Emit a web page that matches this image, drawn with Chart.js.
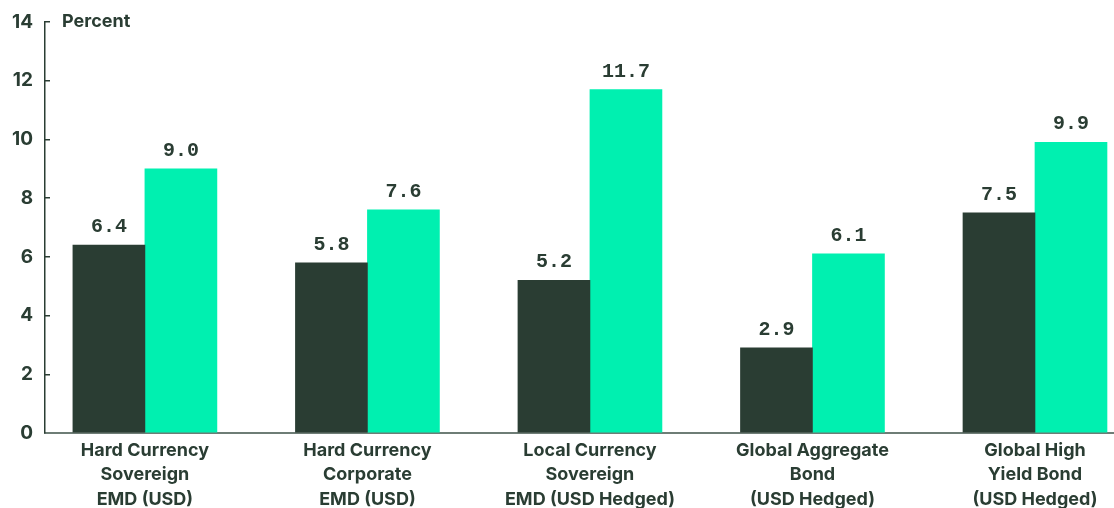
<!DOCTYPE html>
<html>
<head>
<meta charset="utf-8">
<script src="https://cdn.jsdelivr.net/npm/chart.js@4.4.1/dist/chart.umd.min.js"></script>
<style>
  html, body { margin: 0; padding: 0; background: #ffffff; }
  #wrap { width: 1114px; height: 508px; position: relative; }
</style>
</head>
<body>
<div id="wrap"><canvas id="grafico"></canvas></div>
<script>
// Dados do gráfico
const categorias = [
  ['Hard Currency', 'Sovereign', 'EMD (USD)'],
  ['Hard Currency', 'Corporate', 'EMD (USD)'],
  ['Local Currency', 'Sovereign', 'EMD (USD Hedged)'],
  ['Global Aggregate', 'Bond', '(USD Hedged)'],
  ['Global High', 'Yield Bond', '(USD Hedged)']
];
const serieEscura = [6.4, 5.8, 5.2, 2.9, 7.5];
const serieVerde = [9.0, 7.6, 11.7, 6.1, 9.9];
const ticksY = [0, 2, 4, 6, 8, 10, 12, 14];

const corTexto = '#2a3d33';

// rótulos de valor acima das barras
const rotulosValor = {
  id: 'rotulosValor',
  afterDatasetsDraw(chart) {
    const ctx = chart.ctx;
    ctx.save();
    ctx.font = 'bold 20px "Liberation Mono", monospace';
    ctx.fillStyle = corTexto;
    ctx.textAlign = 'center';
    ctx.textBaseline = 'bottom';
    chart.data.datasets.forEach((ds, i) => {
      chart.getDatasetMeta(i).data.forEach((bar, j) => {
        ctx.fillText(ds.data[j].y.toFixed(1), bar.x, bar.y - 8);
      });
    });
    ctx.restore();
  }
};

// "Percent" no topo do eixo
const tituloEixo = {
  id: 'tituloEixo',
  afterDraw(chart) {
    const ctx = chart.ctx;
    ctx.save();
    ctx.font = 'bold 18px Inter, sans-serif';
    ctx.fillStyle = corTexto;
    ctx.textBaseline = 'middle';
    ctx.fillText('Percent', chart.chartArea.left + 17, chart.chartArea.top);
    ctx.restore();
  }
};

new Chart(document.getElementById('grafico'), {
  type: 'bar',
  data: {
    datasets: [
      {
        data: serieEscura.map((v, i) => ({ x: i, y: v })),
        backgroundColor: '#2a3d33',
        barThickness: 72
      },
      {
        data: serieVerde.map((v, i) => ({ x: i, y: v })),
        backgroundColor: '#00f0b0',
        barThickness: 72
      }
    ]
  },
  options: {
    responsive: true,
    maintainAspectRatio: false,
    animation: false,
    layout: { padding: { top: 22, right: 1, left: 0, bottom: 0 } },
    plugins: {
      legend: { display: false },
      tooltip: { enabled: false }
    },
    scales: {
      x: {
        type: 'linear',
        offset: false,
        min: -0.449,
        max: 4.3506,
        afterFit(scale) {
          scale.height = 75;
          scale.paddingLeft = 0;
          scale.paddingRight = 0;
        },
        afterBuildTicks(scale) {
          scale.ticks = categorias.map((c, i) => ({ value: i }));
        },
        ticks: {
          callback: (v) => categorias[v] || '',
          color: corTexto,
          font: { family: 'Inter', weight: 'bold', size: 18, lineHeight: 1.37 },
          padding: 5,
          maxRotation: 0,
          autoSkip: false
        },
        grid: { display: false, drawTicks: false },
        border: { color: '#6e7d76', width: 2 }
      },
      y: {
        min: 0,
        max: 14,
        afterFit(scale) {
          scale.width = 45;
          scale.paddingTop = 0;
          scale.paddingBottom = 0;
        },
        afterBuildTicks(scale) {
          scale.ticks = ticksY.map(v => ({ value: v }));
        },
        ticks: {
          color: corTexto,
          font: { family: 'Inter', weight: 'bold', size: 19, lineHeight: 1 },
          padding: 17
        },
        grid: {
          drawOnChartArea: false,
          drawTicks: true,
          tickLength: -5,
          color: corTexto,
          lineWidth: 1.5
        },
        border: { color: corTexto, width: 1.5 }
      }
    }
  },
  plugins: [rotulosValor, tituloEixo]
});
</script>
</body>
</html>
